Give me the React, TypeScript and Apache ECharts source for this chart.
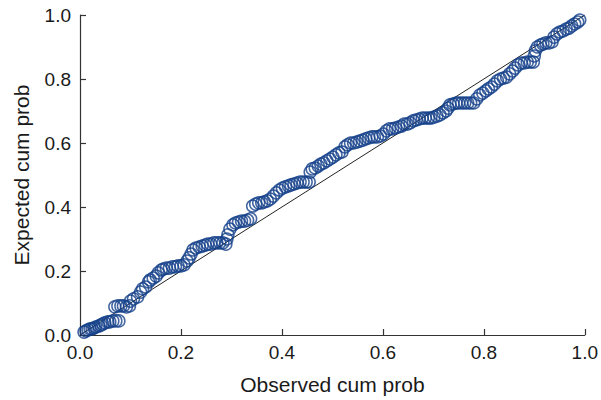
import React, { useEffect, useRef } from "react";
import * as echarts from "echarts";

// Observed cumulative probability (x) and expected cumulative probability (y)
const observed: number[] = [
  0.008, 0.012, 0.016, 0.020, 0.024, 0.028, 0.031, 0.037, 0.041, 0.045, 0.049, 0.055, 0.059, 0.065, 0.071, 0.077,
  0.069, 0.075, 0.081, 0.086, 0.092, 0.098,
  0.100, 0.106, 0.114, 0.120, 0.124, 0.130, 0.136, 0.139, 0.145, 0.151, 0.155, 0.161, 0.165, 0.171, 0.177, 0.183,
  0.189, 0.194, 0.200, 0.206, 0.212, 0.216, 0.220, 0.224, 0.230, 0.236, 0.242, 0.248, 0.253, 0.259, 0.265, 0.271,
  0.277, 0.283, 0.289, 0.291, 0.293, 0.297, 0.303, 0.308, 0.314, 0.320, 0.326, 0.332, 0.338,
  0.342, 0.348, 0.354, 0.360, 0.365, 0.371, 0.377, 0.383, 0.389, 0.395, 0.401, 0.407, 0.413, 0.418, 0.424, 0.430,
  0.436, 0.442, 0.448, 0.454,
  0.456, 0.460, 0.466, 0.472, 0.477, 0.483, 0.489, 0.495, 0.501, 0.507, 0.513, 0.519, 0.525, 0.530, 0.536, 0.542,
  0.548, 0.554, 0.560, 0.566, 0.572, 0.578, 0.583, 0.589, 0.595, 0.601, 0.607, 0.613,
  0.619, 0.625, 0.631, 0.637, 0.642, 0.648, 0.654, 0.660, 0.666, 0.672, 0.678, 0.684, 0.690, 0.695, 0.701, 0.707,
  0.713, 0.719, 0.725, 0.729, 0.733, 0.739, 0.745, 0.750, 0.756, 0.762, 0.768, 0.774, 0.780, 0.786, 0.792, 0.798,
  0.804, 0.809, 0.815,
  0.821, 0.827, 0.833, 0.839, 0.845, 0.851, 0.857, 0.862, 0.868, 0.874, 0.880, 0.886, 0.892, 0.898, 0.900, 0.902,
  0.906, 0.912, 0.917, 0.923, 0.929, 0.935, 0.939, 0.945, 0.951, 0.957, 0.963, 0.969, 0.974, 0.980, 0.986, 0.990,
];

const expected: number[] = [
  0.009, 0.013, 0.016, 0.019, 0.019, 0.022, 0.025, 0.028, 0.031, 0.034, 0.038, 0.041, 0.041, 0.044, 0.044, 0.044,
  0.088, 0.091, 0.091, 0.091, 0.088, 0.091,
  0.106, 0.113, 0.119, 0.134, 0.144, 0.150, 0.166, 0.172, 0.178, 0.184, 0.194, 0.203, 0.206, 0.209, 0.209, 0.213,
  0.213, 0.216, 0.216, 0.219, 0.231, 0.241, 0.253, 0.266, 0.272, 0.275, 0.278, 0.281, 0.284, 0.284, 0.288, 0.288,
  0.288, 0.288, 0.284, 0.300, 0.313, 0.331, 0.344, 0.350, 0.353, 0.356, 0.356, 0.359, 0.363,
  0.403, 0.409, 0.413, 0.413, 0.416, 0.419, 0.425, 0.434, 0.444, 0.453, 0.459, 0.463, 0.466, 0.469, 0.472, 0.475,
  0.478, 0.478, 0.478, 0.478,
  0.509, 0.519, 0.522, 0.528, 0.534, 0.538, 0.544, 0.550, 0.556, 0.563, 0.569, 0.572, 0.588, 0.594, 0.600, 0.600,
  0.603, 0.606, 0.609, 0.613, 0.616, 0.619, 0.619, 0.619, 0.622, 0.628, 0.638, 0.644,
  0.644, 0.647, 0.650, 0.653, 0.659, 0.659, 0.663, 0.669, 0.672, 0.675, 0.678, 0.678, 0.678, 0.678, 0.681, 0.684,
  0.688, 0.694, 0.700, 0.709, 0.719, 0.722, 0.725, 0.725, 0.725, 0.725, 0.725, 0.725, 0.725, 0.738, 0.750, 0.756,
  0.763, 0.769, 0.775,
  0.784, 0.794, 0.800, 0.803, 0.806, 0.816, 0.825, 0.834, 0.844, 0.850, 0.850, 0.853, 0.853, 0.853, 0.872, 0.888,
  0.900, 0.906, 0.909, 0.913, 0.913, 0.916, 0.931, 0.941, 0.947, 0.950, 0.956, 0.959, 0.966, 0.972, 0.978, 0.984,
];

const refLine: number[][] = [
  [0, 0],
  [1, 1],
];

const tickValues = [0, 0.2, 0.4, 0.6, 0.8, 1.0];

const xName = "Observed cum prob";
const yName = "Expected cum prob";

export default function App() {
  const ref = useRef<HTMLDivElement>(null);

  useEffect(() => {
    document.body.style.margin = "0";
    if (!ref.current) return;
    const chart = echarts.init(ref.current, undefined, { renderer: "svg" });
    const font = "'Liberation Sans', Arial, Helvetica, sans-serif";
    const axisCommon = {
      type: "value" as const,
      min: 0,
      max: 1,
      interval: 0.2,
      nameLocation: "middle" as const,
      nameTextStyle: { fontFamily: font, fontSize: 21, color: "#1a1a1a" },
      axisLine: { show: true, lineStyle: { color: "#333", width: 1.2 } },
      axisTick: { show: true, inside: true, length: 6, lineStyle: { color: "#333", width: 1.2 } },
      axisLabel: {
        fontFamily: font,
        fontSize: 19,
        color: "#1a1a1a",
        formatter: (v: number) => (tickValues.some((t) => Math.abs(t - v) < 1e-9) ? v.toFixed(1) : ""),
      },
      splitLine: { show: false },
    };
    chart.setOption({
      animation: false,
      backgroundColor: "#ffffff",
      grid: { left: 80, top: 15, right: 12, bottom: 65, containLabel: false },
      xAxis: { ...axisCommon, name: xName, nameGap: 39, axisLabel: { ...axisCommon.axisLabel, margin: 8 } },
      yAxis: { ...axisCommon, name: yName, nameGap: 48, axisLabel: { ...axisCommon.axisLabel, margin: 9 } },
      series: [
        {
          type: "line",
          data: refLine,
          symbol: "none",
          lineStyle: { color: "#222", width: 1 },
          z: 1,
        },
        {
          type: "scatter",
          data: observed.map((x, i) => [x, expected[i]]),
          symbol: "circle",
          symbolSize: 12,
          itemStyle: { color: "rgba(0,0,0,0)", borderColor: "#14408a", borderWidth: 1.5 },
          z: 2,
        },
      ],
    });
    return () => chart.dispose();
  }, []);

  return <div ref={ref} style={{ width: 601, height: 400 }} />;
}
